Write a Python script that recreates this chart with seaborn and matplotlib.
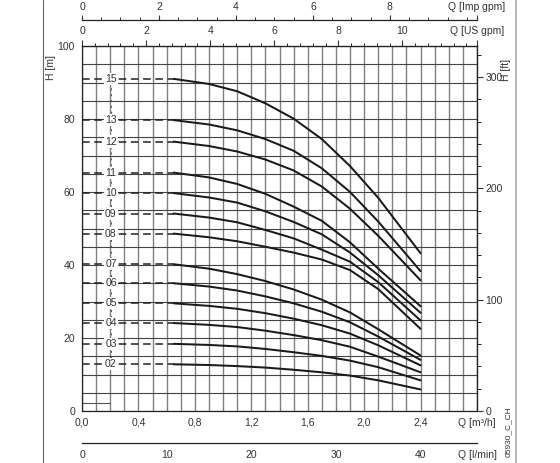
import numpy as np
import pandas as pd
import seaborn as sns
import matplotlib.pyplot as plt
from matplotlib.lines import Line2D
from matplotlib.ticker import MultipleLocator

# pump curves, H [m] against Q [m3/h]
stages = ['15', '13', '12', '11', '10', '09', '08', '07', '06', '05', '04', '03', '02']
q_solid = [0.65, 0.9, 1.1, 1.3, 1.5, 1.7, 1.9, 2.1, 2.4]

h_15 = [91.0, 89.6, 87.6, 84.3, 80.1, 74.5, 67.1, 58.4, 43.2]
h_13 = [79.7, 78.5, 76.9, 74.5, 71.3, 66.5, 60.0, 51.9, 38.3]
h_12 = [73.8, 72.6, 71.1, 68.9, 65.9, 61.5, 55.4, 48.0, 35.8]
h_11 = [65.3, 64.0, 62.2, 59.5, 56.0, 52.1, 46.2, 39.0, 28.7]
h_10 = [59.7, 58.5, 57.1, 54.7, 51.8, 48.4, 43.4, 37.2, 26.9]
h_09 = [54.1, 53.0, 51.7, 49.6, 47.3, 44.2, 40.9, 35.3, 24.8]
h_08 = [48.6, 47.6, 46.5, 45.0, 43.4, 41.5, 38.6, 33.4, 22.5]
h_07 = [40.2, 39.0, 37.5, 35.6, 33.3, 30.5, 27.0, 22.4, 15.2]
h_06 = [35.0, 34.1, 33.0, 31.4, 29.5, 27.2, 24.3, 20.4, 14.0]
h_05 = [29.5, 28.8, 28.0, 26.8, 25.3, 23.5, 21.2, 18.0, 12.5]
h_04 = [24.1, 23.6, 23.0, 22.0, 20.8, 19.4, 17.6, 14.9, 10.6]
h_03 = [18.4, 18.1, 17.7, 17.0, 16.1, 15.1, 13.8, 12.0, 8.4]
h_02 = [12.8, 12.6, 12.3, 11.9, 11.3, 10.6, 9.7, 8.4, 5.9]

h_all = [h_15, h_13, h_12, h_11, h_10, h_09, h_08, h_07, h_06, h_05, h_04, h_03, h_02]

q_ticks = [0.0, 0.4, 0.8, 1.2, 1.6, 2.0, 2.4]
q_tick_labels = ['0,0', '0,4', '0,8', '1,2', '1,6', '2,0', '2,4']
h_ticks = [0, 20, 40, 60, 80, 100]
ft_ticks = [0, 100, 200, 300]
us_ticks = [0, 2, 4, 6, 8, 10]
imp_ticks = [0, 2, 4, 6, 8]
lmin_ticks = [0, 10, 20, 30, 40]

rows = []
for name, h in zip(stages, h_all):
    for q, v in zip(q_solid, h):
        rows.append({'stage': name, 'Q': q, 'H': v})
df = pd.DataFrame(rows)

sns.set_style('white')
plt.rcParams['font.family'] = ['Liberation Sans', 'DejaVu Sans']
txt = '#333333'

W, H = 560, 463
fig = plt.figure(figsize=(5.6, 4.63), dpi=100)
ax = fig.add_axes([82 / W, 52 / H, 395 / W, 365 / H])

# grid
ax.set_xlim(0, 2.8)
ax.set_ylim(0, 100)
ax.xaxis.set_minor_locator(MultipleLocator(0.1))
ax.yaxis.set_minor_locator(MultipleLocator(5))
ax.grid(which='both', axis='x', color='#808080', lw=1.0)
ax.grid(which='both', axis='y', color='#444444', lw=0.8)
ax.set_axisbelow(True)

# dashed shut-off parts and labels
for name, h in zip(stages, h_all):
    ax.plot([0, q_solid[0]], [h[0], h[0]], color='#222222', lw=1.1,
            dashes=(5, 3), zorder=2)
ax.plot([0.205, 0.205], [h_02[0], h_15[0]], color='#555555', lw=0.7,
        dashes=(2, 4), zorder=2)
for name, h in zip(stages, h_all):
    ax.text(0.205, h[0], name, ha='center', va='center', fontsize=7.5,
            color=txt, zorder=4,
            bbox=dict(facecolor='white', edgecolor='none', pad=0.8))

sns.lineplot(data=df, x='Q', y='H', units='stage', estimator=None,
             color='#1a1a1a', lw=1.45, ax=ax, zorder=3)
ax.plot([0, 0.2], [2.3, 2.3], color='#555555', lw=0.8)

for s in ax.spines.values():
    s.set_color('#222222')
    s.set_linewidth(0.9)

ax.set_xticks(q_ticks + [2.8])
ax.set_xticklabels(q_tick_labels + ['Q [m³/h]'])
ax.set_yticks(h_ticks)
ax.tick_params(which='major', direction='out', length=3, width=0.8,
               labelsize=7.5, colors=txt, pad=2)
ax.tick_params(which='minor', length=0)
ax.set_xlabel('')
ax.set_ylabel('')

# US gpm on top
us = ax.secondary_xaxis('top', functions=(lambda q: q * 4.40287,
                                          lambda g: g / 4.40287))
us.set_xticks(us_ticks + [2.8 * 4.40287])
us.set_xticklabels([str(t) for t in us_ticks] + ['Q [US gpm]'])
us.xaxis.set_minor_locator(MultipleLocator(0.4))
us.tick_params(which='major', direction='out', length=4, width=0.8,
               labelsize=7.5, colors=txt, pad=3)
us.tick_params(which='minor', direction='out', length=2.5, width=0.7)

# ft on right
ft = ax.secondary_yaxis('right', functions=(lambda m: m * 3.28084,
                                            lambda f: f / 3.28084))
ft.set_yticks(ft_ticks)
ft.yaxis.set_minor_locator(MultipleLocator(20))
ft.tick_params(which='major', direction='out', length=4, width=0.8,
               labelsize=7.5, colors=txt, pad=2)
ft.tick_params(which='minor', direction='out', length=3, width=0.7)

# Imp gpm scale at the very top
imp = fig.add_axes([82 / W, (H - 20) / H, 395 / W, 0.0001])
imp.set_xlim(0, 2.8 * 3.66615)
imp.set_yticks([])
for k in ['left', 'right', 'bottom']:
    imp.spines[k].set_visible(False)
imp.spines['top'].set_color('#222222')
imp.spines['top'].set_linewidth(0.9)
imp.xaxis.tick_top()
imp.set_xticks(imp_ticks + [2.8 * 3.66615])
imp.set_xticklabels([str(t) for t in imp_ticks] + ['Q [Imp gpm]'])
imp.xaxis.set_minor_locator(MultipleLocator(0.5))
imp.tick_params(which='major', direction='out', length=3.5, width=0.8,
                labelsize=7.5, colors=txt, pad=2)
imp.tick_params(which='minor', direction='out', length=2.5, width=0.7)

# l/min scale at the very bottom
lm = fig.add_axes([82 / W, 20 / H, 395 / W, 0.0001])
lm.set_xlim(0, 2.8 * 16.6667)
lm.set_yticks([])
for k in ['left', 'right', 'top']:
    lm.spines[k].set_visible(False)
lm.spines['bottom'].set_color('#222222')
lm.spines['bottom'].set_linewidth(0.9)
lm.set_xticks(lmin_ticks + [2.8 * 16.6667])
lm.set_xticklabels([str(t) for t in lmin_ticks] + ['Q [l/min]'])
lm.xaxis.set_minor_locator(MultipleLocator(2))
lm.tick_params(which='major', direction='in', length=3.5, width=0.8,
               labelsize=7.5, colors=txt, pad=5)
lm.tick_params(which='minor', direction='in', length=2.5, width=0.7)

# axis titles and frame
fig.text(51 / W, 1 - 68 / H, 'H [m]', rotation=90, ha='center', va='center',
         fontsize=7.5, color=txt)
fig.text(506 / W, 1 - 70 / H, 'H [ft]', rotation=90, ha='center', va='center',
         fontsize=7.5, color=txt)
fig.text(508 / W, 1 - 432 / H, '05930_C_CH', rotation=90, ha='center',
         va='center', fontsize=6, color=txt)
fig.add_artist(Line2D([43 / W, 43 / W], [0, 1], color='#666666', lw=0.8))
fig.add_artist(Line2D([516 / W, 516 / W], [0, 1], color='#bbbbbb', lw=1.5))

fig.savefig('out.png', dpi=100)
